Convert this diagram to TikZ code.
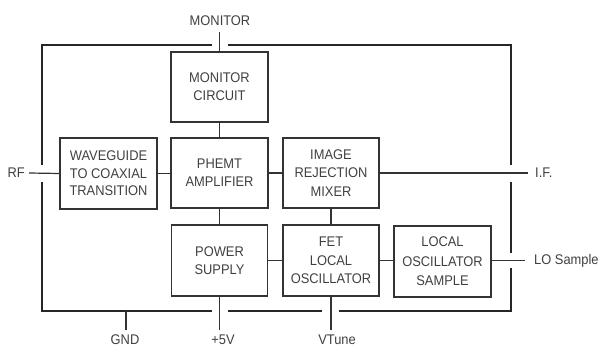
\documentclass[tikz,border=0pt]{standalone}
\usepackage{fontspec}
\setmainfont[FakeStretch=0.92]{Liberation Sans}
\begin{document}
\begin{tikzpicture}[x=1pt,y=-1pt,
  blk/.style={draw=black!80,line width=1.6pt,minimum width=97pt,minimum height=70pt,inner sep=0pt,align=center,text=black!75,font=\fontsize{14}{18.3}\selectfont},
  lbl/.style={inner sep=0pt,text=black!75,font=\fontsize{14}{16}\selectfont},
  wire/.style={draw=black!80,line width=1.2pt},
  house/.style={draw=black!85,line width=1.6pt}]
\useasboundingbox (0,0) rectangle (603,347);
% blocks
\node[blk] (mon) at (219.5,87) {MONITOR\\CIRCUIT};
\node[blk,minimum height=71pt,font=\fontsize{14}{17.4}\selectfont] (wg) at (108.5,173.5) {WAVEGUIDE\\TO COAXIAL\\TRANSITION};
\node[blk] (amp) at (219.5,173) {PHEMT\\AMPLIFIER};
\node[blk,minimum width=96pt] (mix) at (331,173) {IMAGE\\REJECTION\\MIXER};
\node[blk,minimum width=96pt,minimum height=71pt] (psu) at (219.5,260.5) {POWER\\SUPPLY};
\node[blk,minimum width=96pt,minimum height=71pt,font=\fontsize{14}{18.6}\selectfont] (fet) at (331,260.5) {FET\\LOCAL\\OSCILLATOR};
\node[blk,minimum height=71pt,font=\fontsize{14}{19.5}\selectfont] (los) at (442.5,261.5) {LOCAL\\OSCILLATOR\\SAMPLE};
% labels
\node[lbl] (monlbl) at (220,21) {MONITOR};
\node[lbl,anchor=east] (rf) at (25,173) {RF};
\node[lbl,anchor=west] (if) at (535,173) {I.F.};
\node[lbl,anchor=west] (lo) at (534,260.5) {LO Sample};
\node[lbl] (gnd) at (125,339.5) {GND};
\node[lbl] (p5) at (223,339.5) {+5V};
\node[lbl] (vt) at (337,339.5) {VTune};
% free ends
\coordinate (mtop) at (219.5,32);
\coordinate (rfend) at (29,173);
\coordinate (ifend) at (528,173);
\coordinate (loend) at (525,260.5);
\coordinate (gtop) at (126,311);
\coordinate (gend) at (126,330);
\coordinate (p5end) at (219.5,330);
\coordinate (vtend) at (331,330);
% housing
\draw[house] (212,45) -- (42,45) -- (42,165);
\draw[house] (42,182) -- (42,311) -- (212,311);
\draw[house] (228,311) -- (322,311);
\draw[house] (339,311) -- (511,311) -- (511,268);
\draw[house] (511,253) -- (511,182);
\draw[house] (511,165) -- (511,45) -- (228,45);
% connectors
\draw[wire] (mtop) -- (mon.north);
\draw[wire] (mon.south) -- (amp.north);
\draw[wire] (rfend) -- (wg.west);
\draw[wire] (wg.east) -- (wg.east -| amp.west);
\draw[wire] (amp.east) -- (mix.west);
\draw[wire] (mix.east) -- (ifend);
\draw[wire] (amp.south) -- (psu.north);
\draw[wire] (mix.south) -- (fet.north);
\draw[wire] (psu.east) -- (fet.west);
\draw[wire] (fet.east) -- (fet.east -| los.west);
\draw[wire] (fet.east -| los.east) -- (loend);
\draw[wire] (gtop) -- (gend);
\draw[wire] (psu.south) -- (p5end);
\draw[wire] (fet.south) -- (vtend);
\end{tikzpicture}
\end{document}
